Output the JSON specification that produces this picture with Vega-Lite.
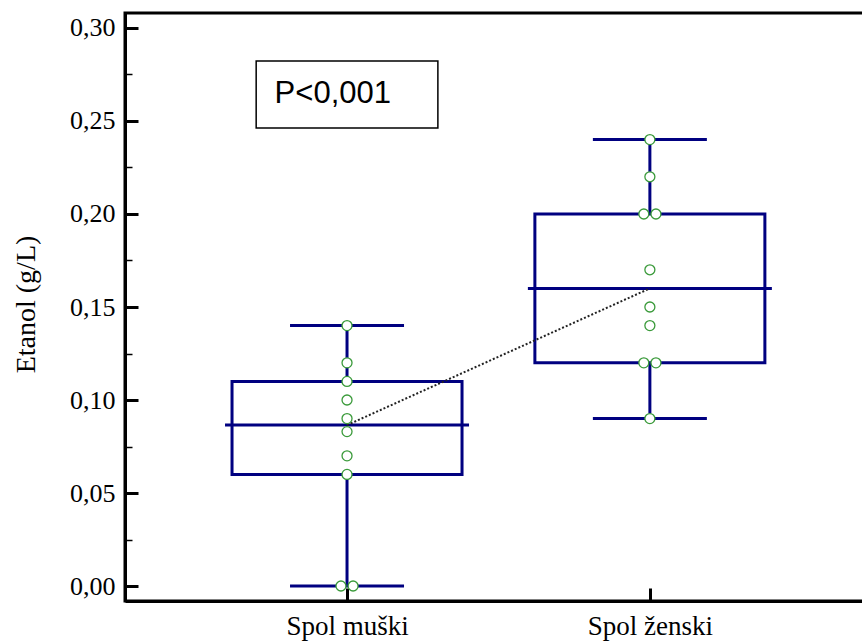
{
  "$schema": "https://vega.github.io/schema/vega-lite/v6.json",
  "width": 740,
  "height": 588,
  "autosize": {"type": "none"},
  "padding": {"left": 125, "top": 13, "right": 0, "bottom": 41},
  "background": "white",
  "config": {
    "view": {"stroke": "black", "strokeWidth": 3},
    "axis": {"grid": false}
  },
  "datasets": {
    "boxes": [
      {"group": "Spol muški", "pos": 1, "lo": 0.0, "q1": 0.06, "med": 0.0865, "q3": 0.11, "hi": 0.14},
      {"group": "Spol ženski", "pos": 2, "lo": 0.09, "q1": 0.12, "med": 0.16, "q3": 0.20, "hi": 0.24}
    ],
    "points": [
      {"group": "Spol muški", "pos": 1, "v": 0.14},
      {"group": "Spol muški", "pos": 1, "v": 0.12},
      {"group": "Spol muški", "pos": 1, "v": 0.11},
      {"group": "Spol muški", "pos": 1, "v": 0.10},
      {"group": "Spol muški", "pos": 1, "v": 0.09},
      {"group": "Spol muški", "pos": 1, "v": 0.083},
      {"group": "Spol muški", "pos": 1, "v": 0.07},
      {"group": "Spol muški", "pos": 1, "v": 0.06},
      {"group": "Spol muški", "pos": 0.98, "v": 0.0},
      {"group": "Spol muški", "pos": 1.02, "v": 0.0},
      {"group": "Spol ženski", "pos": 2, "v": 0.24},
      {"group": "Spol ženski", "pos": 2, "v": 0.22},
      {"group": "Spol ženski", "pos": 1.98, "v": 0.20},
      {"group": "Spol ženski", "pos": 2.02, "v": 0.20},
      {"group": "Spol ženski", "pos": 2, "v": 0.17},
      {"group": "Spol ženski", "pos": 2, "v": 0.15},
      {"group": "Spol ženski", "pos": 2, "v": 0.14},
      {"group": "Spol ženski", "pos": 1.98, "v": 0.12},
      {"group": "Spol ženski", "pos": 2.02, "v": 0.12},
      {"group": "Spol ženski", "pos": 2, "v": 0.09}
    ],
    "note": [{"label": "P<0,001"}]
  },
  "layer": [
    {
      "data": {"name": "boxes"},
      "mark": {"type": "rule", "color": "#000080", "strokeWidth": 3},
      "encoding": {
        "x": {
          "field": "pos", "type": "quantitative",
          "scale": {"domain": [0.2834, 2.6938], "nice": false, "zero": false},
          "axis": {
            "values": [1, 2],
            "labelExpr": "datum.value == 1 ? 'Spol muški' : 'Spol ženski'",
            "labelFont": "Liberation Serif", "labelFontSize": 27, "labelColor": "black",
            "labelPadding": 25,
            "tickSize": -13, "tickWidth": 3, "tickColor": "black",
            "domainColor": "black", "domainWidth": 3,
            "title": null
          }
        },
        "y": {
          "field": "lo", "type": "quantitative",
          "scale": {"domain": [-0.00806, 0.30806], "nice": false, "zero": false},
          "axis": {
            "values": [0, 0.025, 0.05, 0.075, 0.1, 0.125, 0.15, 0.175, 0.2, 0.225, 0.25, 0.275, 0.3],
            "labelExpr": "round(datum.value*40) % 2 == 0 ? replace(format(datum.value, '.2f'), '.', ',') : ''",
            "labelFont": "Liberation Serif", "labelFontSize": 26, "labelColor": "black",
            "labelPadding": 23,
            "tickSize": {"condition": {"test": "round(datum.value*40) % 2 == 0", "value": -13}, "value": -7},
            "tickWidth": {"condition": {"test": "round(datum.value*40) % 2 == 0", "value": 3}, "value": 1.5},
            "tickColor": "black",
            "domainColor": "black", "domainWidth": 3,
            "title": "Etanol (g/L)",
            "titleFont": "Liberation Serif", "titleFontSize": 28, "titleFontWeight": "normal", "titleColor": "black",
            "titleAngle": -90, "titleAlign": "center", "titleBaseline": "middle",
            "titleX": -99, "titleY": 291
          }
        },
        "y2": {"field": "q1"}
      }
    },
    {
      "data": {"name": "boxes"},
      "mark": {"type": "rule", "color": "#000080", "strokeWidth": 3},
      "encoding": {
        "x": {"field": "pos", "type": "quantitative"},
        "y": {"field": "q3", "type": "quantitative"},
        "y2": {"field": "hi"}
      }
    },
    {
      "data": {"name": "boxes"},
      "mark": {"type": "bar", "width": 230, "fillOpacity": 0, "stroke": "#000080", "strokeWidth": 3},
      "encoding": {
        "x": {"field": "pos", "type": "quantitative"},
        "y": {"field": "q1", "type": "quantitative"},
        "y2": {"field": "q3"}
      }
    },
    {
      "data": {"name": "boxes"},
      "mark": {"type": "tick", "orient": "horizontal", "size": 114, "thickness": 3, "color": "#000080", "opacity": 1},
      "encoding": {
        "x": {"field": "pos", "type": "quantitative"},
        "y": {"field": "lo", "type": "quantitative"}
      }
    },
    {
      "data": {"name": "boxes"},
      "mark": {"type": "tick", "orient": "horizontal", "size": 114, "thickness": 3, "color": "#000080", "opacity": 1},
      "encoding": {
        "x": {"field": "pos", "type": "quantitative"},
        "y": {"field": "hi", "type": "quantitative"}
      }
    },
    {
      "data": {"name": "boxes"},
      "mark": {"type": "tick", "orient": "horizontal", "size": 244, "thickness": 3, "color": "#000080", "opacity": 1},
      "encoding": {
        "x": {"field": "pos", "type": "quantitative"},
        "y": {"field": "med", "type": "quantitative"}
      }
    },
    {
      "data": {"name": "boxes"},
      "mark": {"type": "line", "color": "#222222", "strokeWidth": 2, "strokeDash": [2, 2]},
      "encoding": {
        "x": {"field": "pos", "type": "quantitative"},
        "y": {"field": "med", "type": "quantitative"}
      }
    },
    {
      "data": {"name": "points"},
      "mark": {"type": "point", "shape": "circle", "filled": false, "fill": "white", "fillOpacity": 1, "stroke": "#3a9a3a", "strokeWidth": 1.3, "size": 100, "opacity": 1},
      "encoding": {
        "x": {"field": "pos", "type": "quantitative"},
        "y": {"field": "v", "type": "quantitative"}
      }
    },
    {
      "data": {"name": "note"},
      "mark": {"type": "rect", "fill": "white", "stroke": "black", "strokeWidth": 1.5},
      "encoding": {
        "x": {"datum": 0.70, "type": "quantitative"},
        "x2": {"datum": 1.30},
        "y": {"datum": 0.2823, "type": "quantitative"},
        "y2": {"datum": 0.2462}
      }
    },
    {
      "data": {"name": "note"},
      "mark": {"type": "text", "font": "Liberation Sans", "fontSize": 31, "color": "black", "align": "center", "baseline": "alphabetic"},
      "encoding": {
        "x": {"datum": 0.953, "type": "quantitative"},
        "y": {"datum": 0.2595, "type": "quantitative"},
        "text": {"field": "label"}
      }
    }
  ]
}
